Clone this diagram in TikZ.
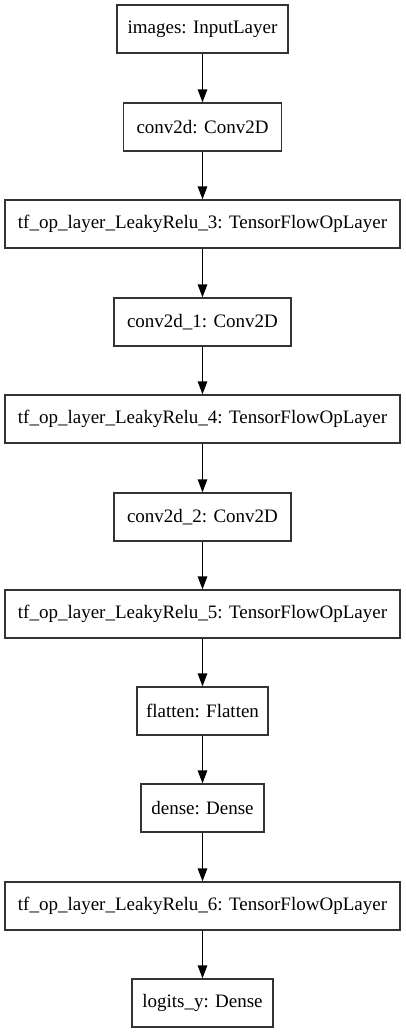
\documentclass[tikz,border=0pt]{standalone}
\usepackage{fontspec}
\setmainfont{Liberation Serif}
\usetikzlibrary{arrows.meta}
\begin{document}
\begin{tikzpicture}[x=1pt,y=-1pt,
  layer/.style={draw=black!80, line width=1.33pt, inner sep=0pt, minimum height=48pt, font=\fontsize{19}{21}\selectfont},
  conn/.style={draw=black, line width=1.33pt, -{Triangle[length=13pt,width=9.5pt]}}]
\useasboundingbox (0,0) rectangle (405,1033);
\node[layer, minimum width=171pt] (n1) at (202.5,29) {images: InputLayer};
\node[layer, minimum width=158pt] (n2) at (202.5,127) {conv2d: Conv2D};
\node[layer, minimum width=395pt] (n3) at (202.5,224) {tf\_op\_layer\_LeakyRelu\_3: TensorFlowOpLayer};
\node[layer, minimum width=177pt] (n4) at (202.5,322) {conv2d\_1: Conv2D};
\node[layer, minimum width=395pt] (n5) at (202.5,419) {tf\_op\_layer\_LeakyRelu\_4: TensorFlowOpLayer};
\node[layer, minimum width=177pt] (n6) at (202.5,517) {conv2d\_2: Conv2D};
\node[layer, minimum width=395pt] (n7) at (202.5,614) {tf\_op\_layer\_LeakyRelu\_5: TensorFlowOpLayer};
\node[layer, minimum width=131pt] (n8) at (202.5,711) {flatten: Flatten};
\node[layer, minimum width=123pt] (n9) at (202.5,808) {dense: Dense};
\node[layer, minimum width=395pt] (n10) at (202.5,906) {tf\_op\_layer\_LeakyRelu\_6: TensorFlowOpLayer};
\node[layer, minimum width=141pt] (n11) at (202.5,1003) {logits\_y: Dense};
\foreach \a/\b in {n1/n2,n2/n3,n3/n4,n4/n5,n5/n6,n6/n7,n7/n8,n8/n9,n9/n10,n10/n11}
  \draw[conn] (\a.south) -- (\b.north);
\end{tikzpicture}
\end{document}
